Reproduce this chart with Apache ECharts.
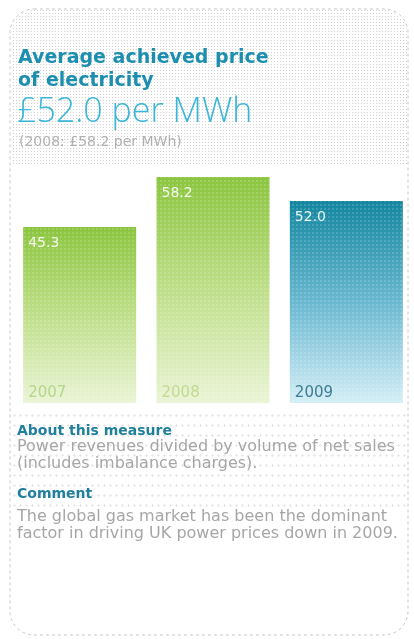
<!DOCTYPE html>
<html>
<head>
<meta charset="utf-8">
<script src="https://cdn.jsdelivr.net/npm/echarts@6/dist/echarts.min.js"></script>
<style>
  html, body { margin: 0; padding: 0; background: #ffffff; }
  #chart { width: 414px; height: 639px; }
</style>
</head>
<body>
<div id="chart"></div>
<script>
// Average achieved price of electricity, £ per MWh
const years = ['2007', '2008', '2009'];
const prices = [45.3, 58.2, 52.0];
const headline = '£52.0 per MWh';
const priorYear = '(2008: £58.2 per MWh)';

// Bar palette: green for earlier years, teal for the latest
const barTop = ['#8bc53f', '#8bc53f', '#13869f'];
const barMid = ['#bfdf8a', '#bfdf8a', '#69b8d0'];
const barBottom = ['#eaf4d6', '#eaf4d6', '#d4eef6'];
const yearColors = ['#b4d78a', '#c2db92', '#3f7d92'];

// Small tiled canvases for the halftone backgrounds
function dotTile(w, h, draw) {
  const c = document.createElement('canvas');
  c.width = w; c.height = h;
  const ctx = c.getContext('2d');
  draw(ctx);
  return c;
}
const headerTile = dotTile(3, 3, ctx => {
  ctx.fillStyle = '#ffffff'; ctx.fillRect(0, 0, 3, 3);
  ctx.fillStyle = 'rgba(170,170,170,0.55)'; ctx.fillRect(1, 1, 1, 1);
});
const ruleTile = dotTile(6, 10, ctx => {
  ctx.fillStyle = '#ffffff'; ctx.fillRect(0, 0, 6, 10);
  ctx.fillStyle = 'rgba(175,175,175,0.28)';
  ctx.fillRect(2, 4, 1, 1); ctx.fillRect(1, 5, 3, 1); ctx.fillRect(2, 6, 1, 1);
});

const chart = echarts.init(document.getElementById('chart'), null, { renderer: 'canvas' });

const bodyFont = '"DejaVu Sans", sans-serif';
const textLines = [
  { y: 424, text: 'About this measure', head: true },
  { y: 439, text: 'Power revenues divided by volume of net sales' },
  { y: 456, text: '(includes imbalance charges).' },
  { y: 487, text: 'Comment', head: true },
  { y: 509, text: 'The global gas market has been the dominant' },
  { y: 526, text: 'factor in driving UK power prices down in 2009.' }
];

const clearDecal = { symbol: 'rect', color: 'rgba(0,0,0,0)' };

chart.setOption({
  animation: false,
  aria: { enabled: true, decal: { show: true } },
  grid: { left: 13, right: 1, top: 170, bottom: 236 },
  xAxis: {
    type: 'category', data: years, show: false
  },
  yAxis: {
    type: 'value', min: 0, max: 60, show: false
  },
  series: [
    {
      type: 'bar',
      barWidth: 113,
      z: 3,
      data: prices.map((v, i) => ({
        value: v,
        itemStyle: {
          color: new echarts.graphic.LinearGradient(0, 0, 0, 1, [
            { offset: 0, color: barTop[i] },
            { offset: 0.5, color: barMid[i] },
            { offset: 1, color: barBottom[i] }
          ]),
          decal: {
            symbol: 'circle',
            symbolSize: 0.7,
            color: 'rgba(255,255,255,0.45)',
            dashArrayX: [2, 2],
            dashArrayY: [2, 2],
            rotation: 0
          }
        }
      })),
      label: {
        show: true,
        position: 'insideTopLeft',
        distance: 6,
        offset: [-1, 3],
        color: 'rgba(255,255,255,0.9)',
        fontFamily: bodyFont,
        fontSize: 14,
        formatter: p => p.value.toFixed(1)
      }
    },
    {
      type: 'bar',
      barWidth: 113,
      barGap: '-100%',
      z: 4,
      silent: true,
      itemStyle: { color: 'rgba(0,0,0,0)', decal: clearDecal },
      data: prices.map((v, i) => ({
        value: v,
        label: { color: yearColors[i] }
      })),
      label: {
        show: true,
        position: 'insideBottomLeft',
        distance: 5,
        offset: [0, 3],
        fontFamily: bodyFont,
        fontSize: 15,
        formatter: p => p.name
      }
    }
  ],
  graphic: [
    // card outline
    {
      type: 'rect', z: 0,
      shape: { x: 10, y: 9, width: 398, height: 626, r: 24 },
      style: { fill: '#ffffff', stroke: '#c8c8c8', lineWidth: 1, lineDash: [3, 3] }
    },
    // halftone header panel
    {
      type: 'rect', z: 1,
      shape: { x: 11, y: 10, width: 396, height: 155, r: [23, 23, 0, 0] },
      style: { fill: { image: headerTile, repeat: 'repeat' } }
    },
    // ruled panel behind the notes
    {
      type: 'rect', z: 1,
      shape: { x: 11, y: 412, width: 396, height: 96 },
      style: { fill: { image: ruleTile, repeat: 'repeat' } }
    },
    {
      type: 'text', z: 5, left: 18, top: 47,
      style: {
        text: 'Average achieved price\nof electricity',
        font: 'bold 19px "DejaVu Sans", sans-serif',
        fill: '#1c8fb0', lineHeight: 23
      }
    },
    {
      type: 'text', z: 5, left: 17, top: 95,
      style: {
        text: headline,
        font: '300 34px "Open Sans", sans-serif',
        fill: '#3ab6d8'
      }
    },
    {
      type: 'text', z: 5, left: 19, top: 135,
      style: {
        text: priorYear,
        font: '14px "DejaVu Sans", sans-serif',
        fill: '#b0b0b0'
      }
    }
  ].concat(textLines.map(t => ({
    type: 'text', z: 5, left: 17, top: t.y,
    style: {
      text: t.text,
      font: (t.head ? 'bold 14px ' : '16px ') + bodyFont,
      fill: t.head ? '#1f7f9c' : '#a6a6a6'
    }
  })))
});
</script>
</body>
</html>
